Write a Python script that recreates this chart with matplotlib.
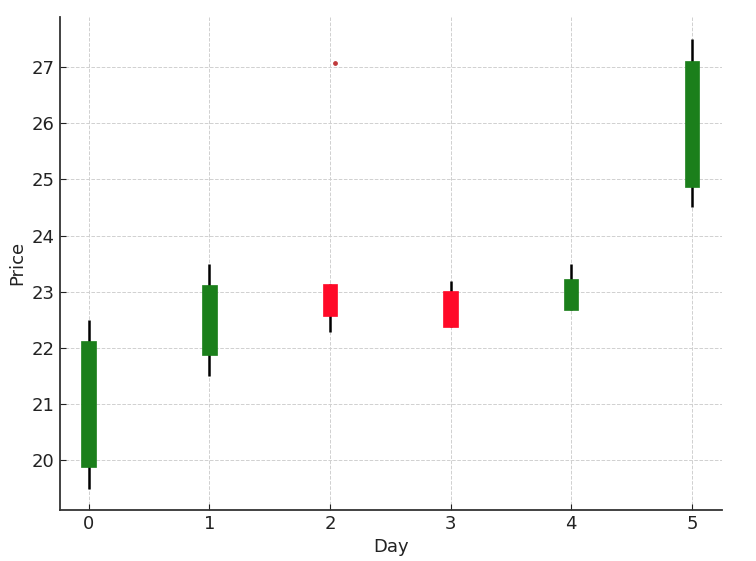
import matplotlib.pyplot as plt
from matplotlib.patches import Rectangle

days = [0, 1, 2, 3, 4, 5]
opens = [19.88, 21.87, 23.13, 23.02, 22.67, 24.87]
closes = [22.12, 23.12, 22.57, 22.37, 23.22, 27.11]
highs = [22.5, 23.5, 23.13, 23.2, 23.5, 27.5]
lows = [19.5, 21.5, 22.28, 22.37, 22.67, 24.5]

# stray marker seen in the chart
dot_x = [2.04]
dot_y = [27.07]

up_color = '#1b7f1b'
down_color = '#ff0a28'
width = 0.12

fig = plt.figure(figsize=(7.56, 5.61), dpi=100)
ax = fig.add_axes([0.079, 0.091, 0.876, 0.879])

for d, o, c, h, l in zip(days, opens, closes, highs, lows):
    col = up_color if c >= o else down_color
    ax.plot([d, d], [l, h], color='black', linewidth=1.8,
            solid_capstyle='butt', zorder=2)
    ax.add_patch(Rectangle((d - width / 2, min(o, c)), width, abs(c - o),
                           facecolor=col, edgecolor=col, linewidth=0.5, zorder=3))

ax.scatter(dot_x, dot_y, s=6, color='#c0393b', zorder=4)

ax.set_xlim(-0.24, 5.25)
ax.set_ylim(19.12, 27.89)
ax.set_xticks(days)
ax.set_yticks(range(20, 28))
ax.set_xlabel('Day', fontsize=13, color='#222222')
ax.set_ylabel('Price', fontsize=13, color='#222222')
ax.tick_params(labelsize=13, colors='#222222', direction='in', length=4)
ax.grid(True, linestyle='--', color='#d0d0d0', linewidth=0.7)
ax.set_axisbelow(True)
for s in ['top', 'right']:
    ax.spines[s].set_visible(False)
for s in ['left', 'bottom']:
    ax.spines[s].set_color('#333333')
    ax.spines[s].set_linewidth(1.3)

fig.savefig('out.png', dpi=100)
